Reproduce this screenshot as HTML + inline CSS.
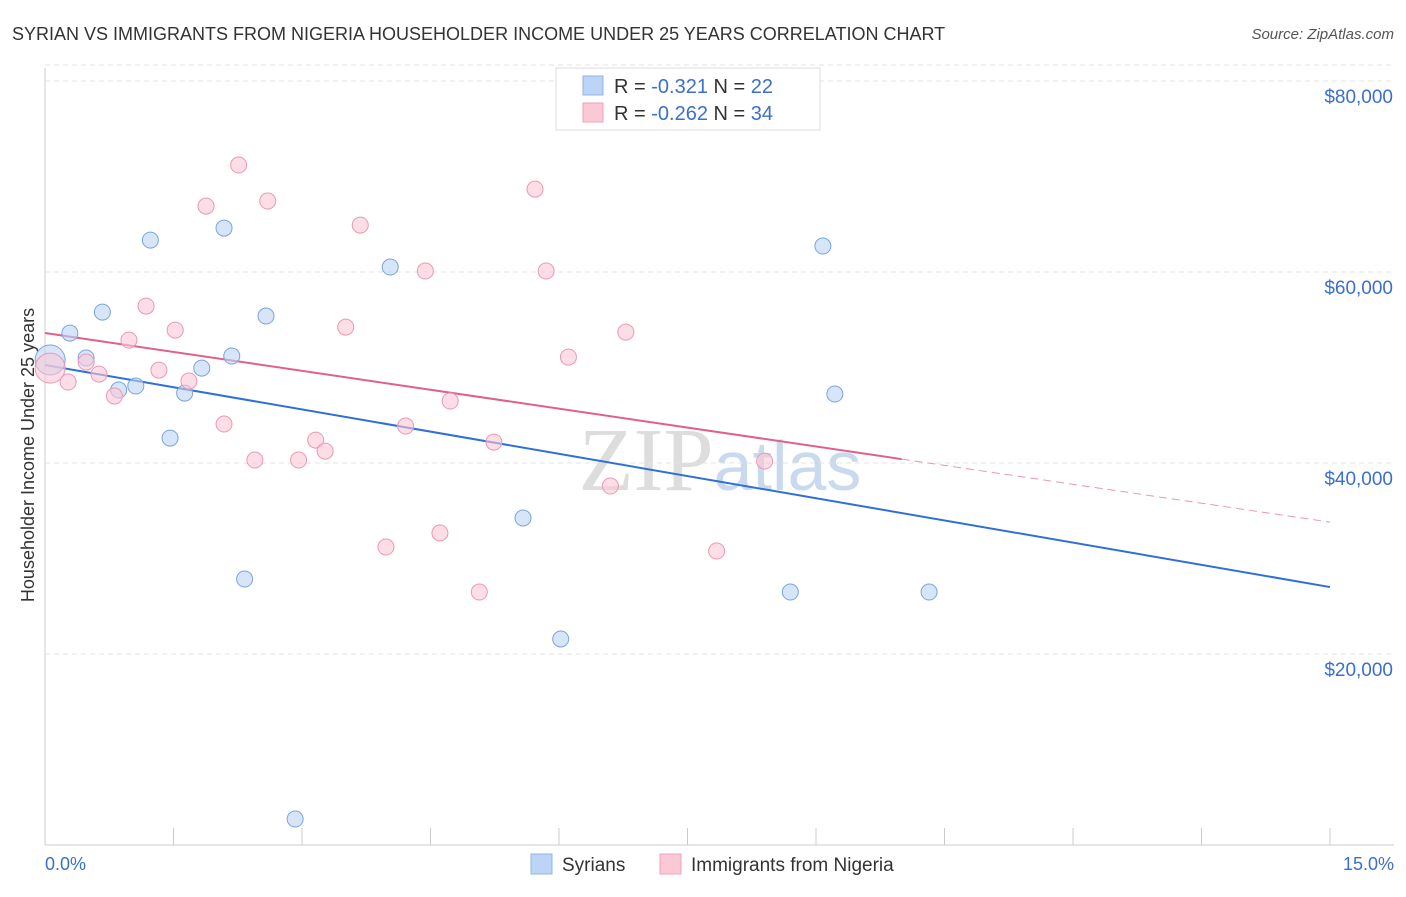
<!DOCTYPE html>
<html><head><meta charset="utf-8"><style>
body{margin:0;background:#fff;font-family:"Liberation Sans",sans-serif}
</style></head><body>
<svg id="c" width="1406" height="892" xmlns="http://www.w3.org/2000/svg" style="font-family:'Liberation Sans',sans-serif">
<text x="12" y="40" font-size="18" fill="#333">SYRIAN VS IMMIGRANTS FROM NIGERIA HOUSEHOLDER INCOME UNDER 25 YEARS CORRELATION CHART</text>
<text x="1394" y="39" font-size="15" fill="#555" font-style="italic" text-anchor="end">Source: ZipAtlas.com</text>
<text x="720" y="490" font-size="90" fill="#ddd" text-anchor="middle" font-family="Liberation Serif">ZIP<tspan fill="#c9d9ee" font-family="Liberation Sans" font-size="70">atlas</tspan></text>
<g id="grid"></g><g id="axes"></g><g id="lines"></g><g id="pts"></g>
<text transform="translate(34,455) rotate(-90)" font-size="18" fill="#333" text-anchor="middle">Householder Income Under 25 years</text>
<text x="45" y="870" font-size="18" fill="#3a6fd0">0.0%</text>
<text x="1394" y="870" font-size="18" fill="#3a6fd0" text-anchor="end">15.0%</text>
<g>
<rect x="556" y="68" width="264" height="62" fill="#fff" stroke="#ddd"/>
<rect x="583" y="76" width="20" height="19" fill="#bcd4f5" stroke="#8fb3e8"/>
<rect x="583" y="103" width="20" height="19" fill="#fbc8d6" stroke="#f0a0b8"/>
<text x="614" y="93" font-size="20" fill="#333">R = <tspan fill="#3a6fd0"> -0.321</tspan>   N = <tspan fill="#3a6fd0">22</tspan></text>
<text x="614" y="120" font-size="20" fill="#333">R = <tspan fill="#3a6fd0">-0.262</tspan>   N = <tspan fill="#3a6fd0">34</tspan></text>
</g>
<g>
<rect x="531" y="854" width="21" height="20" fill="#bcd4f5" stroke="#8fb3e8"/>
<text x="562" y="871" font-size="19" fill="#333">Syrians</text>
<rect x="660" y="854" width="21" height="20" fill="#fbc8d6" stroke="#f0a0b8"/>
<text x="691" y="871" font-size="19" fill="#333">Immigrants from Nigeria</text>
</g>
</svg>
<script>
const yTicks=[20000,40000,60000,80000];
const yTickLabels=["$20,000","$40,000","$60,000","$80,000"];
const syrX=[0.06,0.29,0.48,0.67,0.86,1.06,1.23,1.46,1.63,1.83,2.09,2.18,2.33,2.58,2.92,4.03,5.58,6.02,8.70,9.08,9.22,10.32];
const syrY=[50780,53600,51000,55800,47640,48060,63340,42610,47320,49940,64600,51200,27850,55390,2720,60520,34240,21570,26490,62720,47220,26490];
const nigX=[0.06,0.27,0.48,0.63,0.81,0.98,1.18,1.33,1.52,1.68,1.88,2.09,2.26,2.45,2.60,2.96,3.16,3.27,3.51,3.68,3.98,4.21,4.44,4.61,4.73,5.07,5.24,5.72,5.85,6.11,6.60,6.78,7.84,8.40];
const nigY=[49940,48480,50570,49310,47010,52870,56430,49730,53920,48580,66900,44080,71200,40310,67430,40310,42400,41250,54230,64910,31200,43870,60100,32670,46490,26490,42190,68680,60100,51090,37590,53710,30780,40200];
const syrTrend=[[0,50260],[15,27010]];
const nigTrend=[[0,53610],[10,40410],[15,33810]];
const X=v=>45+v*85.667, Y=v=>845-v*191/20000;
const NS="http://www.w3.org/2000/svg";
function mk(p,t,a){const e=document.createElementNS(NS,t);for(const k in a)e.setAttribute(k,a[k]);document.getElementById(p).appendChild(e);return e;}
yTicks.forEach((t,i)=>{
 const l=mk('grid','line',{x1:45,x2:1394,y1:Y(t),y2:Y(t),stroke:'#e3e3e3','stroke-dasharray':'5,4'});
 
 
 const tx=mk('grid','text',{x:1393,y:Y(t)+22,'font-size':19,fill:'#3a6fd0','text-anchor':'end'});
 tx.textContent=yTickLabels[i];
 
 
});
{const l=mk('grid','line',{x1:45,x2:1394,y1:Y(80000)-16,y2:Y(80000)-16,stroke:'#e3e3e3','stroke-dasharray':'5,4'});

}
let a=mk('axes','line',{x1:45,x2:45,y1:68,y2:845,stroke:'#ccc'});


a=mk('axes','line',{x1:45,x2:1394,y1:845,y2:845,stroke:'#ccc'});


for(let i=0;i<=10;i++){const t=mk('axes','line',{x1:X(i*1.5),x2:X(i*1.5),y1:828,y2:845,stroke:'#ccc'});

}
let tl=mk('lines','line',{x1:X(syrTrend[0][0]),y1:Y(syrTrend[0][1]),x2:X(syrTrend[1][0]),y2:Y(syrTrend[1][1]),stroke:'#2f6fd6','stroke-width':2});


tl=mk('lines','line',{x1:X(nigTrend[0][0]),y1:Y(nigTrend[0][1]),x2:X(nigTrend[1][0]),y2:Y(nigTrend[1][1]),stroke:'#e0608a','stroke-width':2});


tl=mk('lines','line',{x1:X(nigTrend[1][0]),y1:Y(nigTrend[1][1]),x2:X(nigTrend[2][0]),y2:Y(nigTrend[2][1]),stroke:'#e898b0','stroke-width':1,'stroke-dasharray':'8,5'});


function pts(xs,ys,fill,stroke,name){xs.forEach((x,i)=>{
 const c=mk('pts','circle',{cx:X(x),cy:Y(ys[i]),r:i==0?15:8,fill:fill,stroke:stroke,'stroke-width':1,'fill-opacity':0.6});
 
 
});}
pts(syrX,syrY,'#bcd4f5','#7aa4e0','syrians-point');
pts(nigX,nigY,'#fbc8d6','#ec98b4','nigeria-point');
</script>
</body></html>
